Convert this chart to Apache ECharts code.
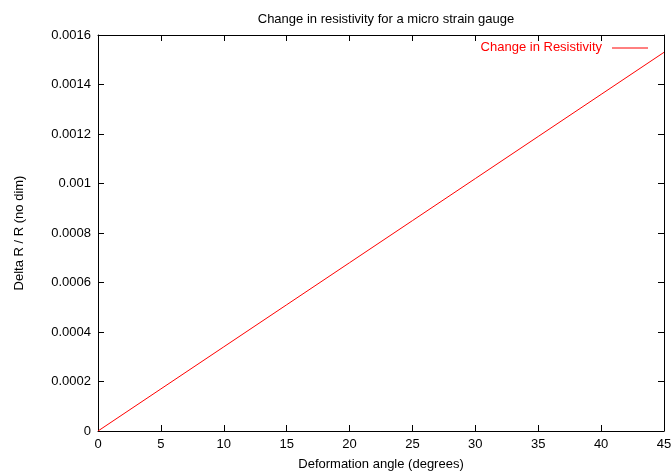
<!DOCTYPE html>
<html>
<head>
<meta charset="utf-8">
<script src="https://cdn.jsdelivr.net/npm/echarts@6/dist/echarts.min.js"></script>
<style>
  html, body { margin: 0; padding: 0; background: #fff; }
  #chart { width: 672px; height: 473px; }
</style>
</head>
<body>
<div id="chart"></div>
<script>
// Deformation angle in degrees and the resulting relative resistance change
const angles = [0, 5, 10, 15, 20, 25, 30, 35, 40, 45];
const deltaR = [0, 0.00017, 0.00034, 0.00051, 0.00068, 0.00085, 0.00102, 0.00119, 0.00136, 0.00153];
const seriesName = 'Change in Resistivity';
const titleText = 'Change in resistivity for a micro strain gauge';
const xLabel = 'Deformation angle (degrees)';
const yLabel = 'Delta R / R (no dim)';

const FONT = '"Liberation Sans", Arial, sans-serif';
const FS = 13;
const axisLine = { show: true, onZero: false, lineStyle: { color: '#000', width: 1 } };
const ticks = { show: true, inside: true, length: 6, lineStyle: { color: '#000' } };

const chart = echarts.init(document.getElementById('chart'), null, { renderer: 'canvas' });
const grid = { left: 98, right: 8, top: 35, bottom: 42, outerBoundsMode: 'none', containLabel: false };

chart.setOption({
  animation: false,
  backgroundColor: '#fff',
  title: {
    text: titleText,
    left: 381, top: 8, textAlign: 'center',
    textStyle: { fontFamily: FONT, fontSize: FS, fontWeight: 'normal', color: '#000' }
  },
  grid: grid,
  xAxis: [
    {
      type: 'value', min: 0, max: 45, interval: 5, position: 'bottom',
      axisLine: axisLine, axisTick: ticks, splitLine: { show: false },
      axisLabel: { fontFamily: FONT, fontSize: FS, color: '#000', margin: 7 },
      name: xLabel, nameLocation: 'middle', nameGap: 27,
      nameTextStyle: { fontFamily: FONT, fontSize: FS, color: '#000' }
    },
    {
      type: 'value', min: 0, max: 45, interval: 5, position: 'top',
      axisLine: axisLine, axisTick: ticks, splitLine: { show: false },
      axisLabel: { show: false }
    }
  ],
  yAxis: [
    {
      type: 'value', min: 0, max: 0.0016, interval: 0.0002, position: 'left',
      axisLine: axisLine, axisTick: ticks, splitLine: { show: false },
      axisLabel: {
        fontFamily: FONT, fontSize: FS, color: '#000', margin: 7,
        formatter: v => v === 0 ? '0' : parseFloat(v.toFixed(4)).toString()
      },
      name: yLabel, nameLocation: 'middle', nameGap: 72, nameRotate: 90,
      nameTextStyle: { fontFamily: FONT, fontSize: FS, color: '#000' }
    },
    {
      type: 'value', min: 0, max: 0.0016, interval: 0.0002, position: 'right',
      axisLine: axisLine, axisTick: ticks, splitLine: { show: false },
      axisLabel: { show: false }
    }
  ],
  series: [{
    name: seriesName,
    type: 'line',
    xAxisIndex: 0, yAxisIndex: 0,
    data: angles.map((a, i) => [a, deltaR[i]]),
    showSymbol: false,
    lineStyle: { color: '#ff0000', width: 1 },
    itemStyle: { color: '#ff0000' }
  }],
  graphic: [
    {
      type: 'text', right: 70, top: 41,
      style: { text: seriesName, fontFamily: FONT, fontSize: FS, fill: '#ff0000' }
    },
    {
      type: 'line', shape: { x1: 612, y1: 48, x2: 648, y2: 48 },
      style: { stroke: '#ff0000', lineWidth: 1 }
    }
  ]
});
</script>
</body>
</html>
